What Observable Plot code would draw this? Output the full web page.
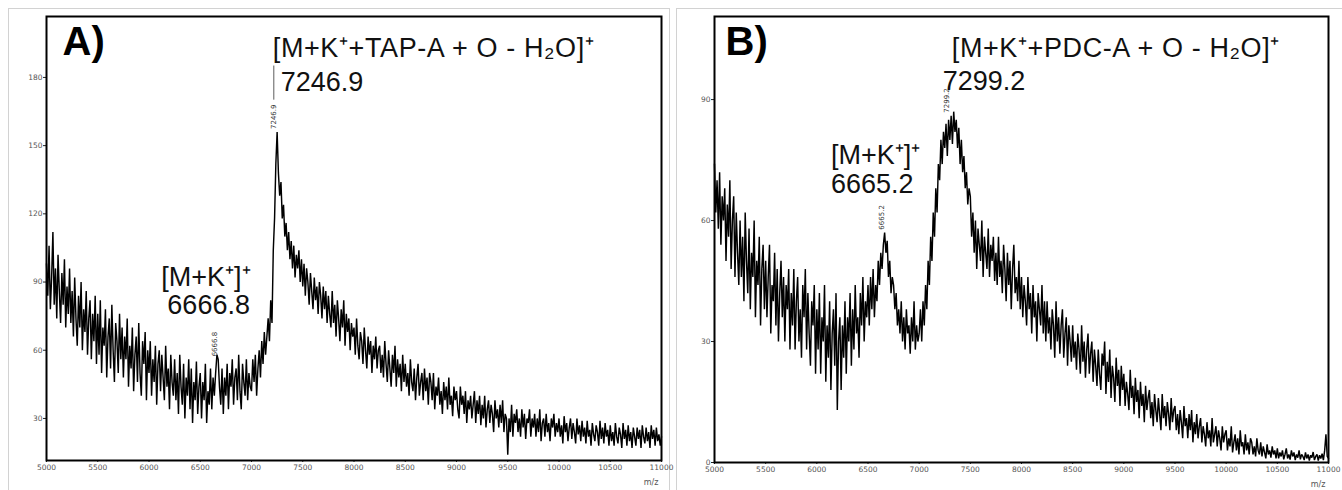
<!DOCTYPE html>
<html>
<head>
<meta charset="utf-8">
<script src="https://cdn.jsdelivr.net/npm/d3@7"></script>
<script src="https://cdn.jsdelivr.net/npm/@observablehq/plot@0.6"></script>
<style>
  html, body { margin: 0; padding: 0; background: #fff; }
  #wrap { position: relative; width: 1342px; height: 490px; overflow: hidden; }
  .panel { position: absolute; top: 0; width: 671px; height: 490px; }
  #pa { left: 0; }
  #pb { left: 671px; }
  .panel svg { display: block; position: absolute; left: 0; top: 0; }
  .box { position: absolute; border-top: 1px solid #d2d2d2; border-left: 1px solid #d2d2d2; height: 500px; }
  #boxa { left: 8px; top: 8px; width: 660px; border-right: 1px solid #d2d2d2; }
  #boxb { left: 676px; top: 8px; width: 680px; }
</style>
</head>
<body>
<div id="wrap">
  <div class="box" id="boxa"></div>
  <div class="box" id="boxb"></div>
  <div class="panel" id="pa"></div>
  <div class="panel" id="pb"></div>
</div>
<script>
// ---- data (m/z sampled every 12.5 from 5000 to 11000) ----
const mzStart = 5000;
const mzStep = 12.5;

// Panel A spectrum (a.u.), one row = 250 m/z
const intensityA = [
  98, 84, 106, 78, 92, 112, 80, 96, 74, 102, 86, 72, 94, 80, 100, 70, 88, 76, 96, 72,
  86, 66, 92, 74, 62, 84, 70, 90, 60, 78, 68, 86, 58, 74, 82, 56, 76, 64, 84, 54,
  76, 58, 82, 50, 70, 62, 78, 48, 66, 74, 52, 80, 60, 46, 72, 64, 50, 76, 56, 70,
  48, 66, 56, 74, 44, 62, 52, 70, 42, 58, 66, 46, 72, 50, 40, 64, 54, 68, 38, 60,
  50, 64, 40, 56, 46, 62, 36, 54, 60, 42, 58, 48, 38, 62, 44, 52, 34, 58, 46, 40,
  56, 38, 50, 32, 58, 44, 36, 54, 30, 48, 40, 56, 34, 52, 28, 46, 38, 55, 32, 44,
  50, 30, 46, 38, 54, 28, 42, 36, 52, 34, 48, 40, 50, 58, 56, 44, 36, 52, 32, 48,
  40, 54, 34, 50, 44, 56, 36, 48, 52, 38, 58, 42, 34, 54, 46, 40, 56, 38, 50, 44,
  42, 56, 46, 58, 40, 52, 60, 48, 64, 54, 68, 58, 66, 74, 64, 82, 72, 104, 118, 142,
  156, 138, 128, 134, 118, 124, 110, 116, 104, 112, 100, 108, 96, 106, 92, 102, 96, 104, 90, 100,
  88, 98, 84, 96, 90, 80, 94, 86, 78, 92, 82, 88, 76, 90, 84, 74, 88, 78, 86, 72,
  84, 76, 70, 86, 72, 80, 66, 82, 74, 64, 78, 70, 82, 62, 76, 68, 74, 60, 72, 66,
  70, 58, 74, 62, 56, 68, 64, 54, 70, 60, 52, 66, 58, 64, 50, 62, 56, 66, 52, 60,
  62, 50, 58, 48, 64, 54, 46, 60, 52, 44, 58, 50, 62, 44, 56, 48, 54, 42, 58, 46,
  54, 44, 50, 40, 56, 46, 42, 52, 38, 48, 54, 40, 46, 50, 38, 52, 42, 48, 36, 50,
  46, 38, 50, 34, 44, 40, 48, 36, 42, 32, 46, 38, 44, 34, 48, 36, 40, 31, 44, 38,
  42, 34, 30, 44, 36, 40, 32, 42, 28, 38, 34, 40, 30, 36, 42, 28, 38, 32, 40, 27,
  36, 30, 40, 26, 34, 38, 28, 36, 32, 24, 38, 30, 34, 26, 36, 28, 38, 24, 32, 30,
  14, 30, 24, 36, 22, 32, 28, 34, 24, 30, 22, 34, 26, 32, 21, 30, 28, 34, 22, 30,
  26, 32, 22, 30, 24, 34, 20, 28, 30, 22, 32, 24, 28, 20, 30, 26, 32, 22, 28, 24,
  30, 22, 27, 19, 31, 24, 28, 20, 26, 30, 21, 28, 24, 19, 30, 23, 27, 20, 29, 22,
  26, 19, 29, 22, 25, 18, 28, 23, 20, 27, 24, 18, 29, 21, 26, 19, 28, 22, 25, 18,
  27, 20, 24, 18, 28, 22, 19, 26, 23, 17, 28, 21, 25, 18, 27, 20, 24, 17, 26, 22,
  18, 26, 21, 25, 17, 27, 22, 19, 26, 20, 24, 17, 27, 21, 25, 18, 26, 20, 23, 18,
  22
];

// Panel B spectrum (a.u.), one row = 250 m/z
const intensityB = [
  74, 62, 70, 58, 72, 54, 66, 60, 68, 50, 64, 56, 70, 48, 60, 66, 46, 62, 52, 44,
  60, 46, 56, 40, 62, 50, 42, 58, 38, 52, 46, 60, 36, 50, 44, 56, 34, 48, 54, 38,
  50, 36, 46, 54, 32, 44, 40, 52, 34, 48, 30, 42, 50, 36, 46, 30, 44, 38, 48, 28,
  42, 34, 48, 28, 40, 46, 30, 38, 26, 44, 36, 48, 28, 42, 32, 24, 40, 34, 44, 22,
  38, 28, 42, 22, 36, 30, 44, 20, 34, 26, 40, 18, 32, 38, 24, 42, 13, 30, 36, 18,
  34, 26, 40, 22, 36, 30, 42, 24, 38, 28, 44, 32, 36, 26, 42, 34, 46, 30, 40, 36,
  44, 34, 46, 38, 48, 36, 44, 40, 50, 44, 52, 48, 54, 57, 52, 55, 46, 50, 42, 46,
  44, 38, 42, 34, 38, 32, 40, 30, 36, 28, 38, 32, 34, 27, 36, 30, 40, 28, 34, 30,
  32, 38, 30, 40, 34, 44, 38, 50, 44, 56, 50, 62, 56, 68, 62, 74, 70, 80, 74, 82,
  78, 84, 76, 85, 80, 86, 79, 87, 82, 85, 78, 83, 74, 80, 72, 76, 68, 72, 64, 68,
  66, 56, 62, 52, 60, 48, 58, 54, 50, 60, 46, 56, 52, 48, 58, 46, 54, 50, 56, 45,
  52, 44, 56, 46, 50, 42, 54, 48, 40, 52, 44, 50, 38, 48, 54, 42, 46, 40, 50, 38,
  46, 36, 44, 40, 34, 46, 38, 42, 32, 44, 36, 40, 30, 42, 38, 34, 44, 32, 40, 30,
  40, 32, 36, 28, 38, 34, 26, 40, 30, 36, 27, 34, 38, 26, 32, 36, 24, 34, 30, 25,
  34, 26, 30, 23, 32, 28, 22, 34, 25, 30, 21, 28, 32, 22, 27, 30, 20, 28, 24, 19,
  28, 22, 18, 27, 24, 30, 17, 25, 20, 28, 16, 24, 21, 15, 26, 19, 23, 14, 24, 18,
  22, 14, 20, 17, 13, 23, 16, 19, 12, 21, 15, 18, 11, 20, 14, 17, 10, 19, 13, 16,
  18, 11, 15, 9, 17, 13, 10, 16, 12, 8, 17, 11, 14, 9, 15, 12, 8, 16, 10, 13,
  14, 8, 12, 7, 13, 10, 6, 14, 9, 11, 6, 12, 8, 13, 5, 10, 7, 12, 6, 9,
  11, 5, 9, 7, 4, 10, 6, 8, 4, 11, 5, 7, 9, 4, 8, 6, 3, 9, 5, 7,
  8, 3, 6, 4, 9, 2.5, 5, 7, 3, 6, 2, 8, 4, 5, 2, 7, 3, 5, 2, 6,
  5, 2, 4, 1.5, 6, 3, 2, 5, 1.5, 4, 2.5, 1, 4.5, 2, 3, 1.2, 4, 2, 3, 1,
  3.5, 1, 2.5, 1.5, 3, 0.8, 2, 3.5, 1, 2, 0.7, 3, 1.5, 2.5, 0.6, 2, 1.2, 3, 0.8, 2,
  1.5, 0.6, 2.5, 1, 2, 0.5, 1.8, 1.2, 2.6, 0.6, 1.5, 2, 0.5, 1.8, 1, 2.2, 0.6, 3, 7, 1.5,
  1
];

// Axis ticks
const xTicks = [5000, 5500, 6000, 6500, 7000, 7500, 8000, 8500, 9000, 9500, 10000, 10500, 11000];
const yTicksA = [30, 60, 90, 120, 150, 180];
const yTicksB = [0, 30, 60, 90];
const xDomain = [5000, 11000];
const yDomainA = [11.5, 206.8];
const yDomainB = [0, 110.6];

// Peak annotations
const panelLabels = ["A)", "B)"];
const peakMzA = [7246.9, 6666.8];
const peakIntA = [156, 56];
const peakNameA = ["[M+K\u207A+TAP-A + O - H\u2082O]\u207A", "[M+K\u207A]\u207A"];
const peakMzB = [7299.2, 6665.2];
const peakIntB = [86, 57];
const peakNameB = ["[M+K\u207A+PDC-A + O - H\u2082O]\u207A", "[M+K\u207A]\u207A"];
const axisUnit = "m/z";

// ---- build tables ----
const specA = intensityA.map((v, i) => ({mz: mzStart + i * mzStep, v}));
const specB = intensityB.map((v, i) => ({mz: mzStart + i * mzStep, v}));
const peaksA = peakMzA.map((mz, i) => ({mz, inten: peakIntA[i], name: peakNameA[i], num: mz.toFixed(1)}));
const peaksB = peakMzB.map((mz, i) => ({mz, inten: peakIntB[i], name: peakNameB[i], num: mz.toFixed(1)}));

const bigFont = "Liberation Sans, Arial, Helvetica, sans-serif";
const smallFont = "DejaVu Sans, Liberation Sans, sans-serif";
const bigSize = 27;

function commonMarks(spec, yTicks, label, ldx) {
  return [
    Plot.line(spec, {x: "mz", y: "v", stroke: "#000", strokeWidth: 1.45, strokeLinejoin: "miter"}),
    Plot.axisY(yTicks, {tickSize: 3, tickPadding: 1, fontSize: 7.5, fontFamily: smallFont, color: "#555", stroke: "#222", label: null}),
    Plot.axisX(xTicks, {tickSize: 2, tickPadding: 2, fontSize: 7.5, fontFamily: smallFont, color: "#555", stroke: "#222", label: null, tickFormat: d => String(d)}),
    Plot.text([axisUnit], {frameAnchor: "bottom-right", text: d => d, dy: 24, dx: -3, textAnchor: "end", fontSize: 8, fontFamily: smallFont, fill: "#555"}),
    Plot.text([label], {frameAnchor: "top-left", text: d => d, lineAnchor: "top", textAnchor: "start", dx: ldx, dy: 10, fontSize: 40, fontWeight: "bold", fontFamily: bigFont, fill: "#000"}),
    Plot.frame({stroke: "#000", strokeWidth: 2})
  ];
}

function bigLabel(row, field, dx, dy) {
  return Plot.text([row], {x: "mz", y: "inten", text: field, textAnchor: "start", lineAnchor: "bottom", dx, dy, fontSize: bigSize, fontFamily: bigFont, fill: "#111"});
}

// ---- Panel A ----
const plotA = Plot.plot({
  width: 671, height: 490,
  marginLeft: 46, marginRight: 10, marginTop: 16, marginBottom: 30,
  x: {domain: xDomain},
  y: {domain: yDomainA},
  style: {background: "transparent", overflow: "visible"},
  marks: [
    ...commonMarks(specA, yTicksA, panelLabels[0], 16),
    Plot.ruleX([peaksA[0]], {x: "mz", y1: d => d.inten + 14, y2: d => d.inten + 29, stroke: "#333", strokeWidth: 0.8, dx: -3}),
    Plot.text(peaksA, {x: "mz", y: "inten", text: "num", rotate: -90, textAnchor: "start", fontSize: 7, fontFamily: smallFont, fill: "#333", dy: -3, dx: -3}),
    bigLabel(peaksA[0], "name", -4, -75),
    bigLabel(peaksA[0], "num", 4, -41),
    bigLabel(peaksA[1], "name", -56, -73),
    bigLabel(peaksA[1], "num", -50, -45)
  ]
});
document.getElementById("pa").appendChild(plotA);

// ---- Panel B ----
const plotB = Plot.plot({
  width: 671, height: 490,
  marginLeft: 43, marginRight: 14, marginTop: 16, marginBottom: 28,
  x: {domain: xDomain},
  y: {domain: yDomainB},
  style: {background: "transparent", overflow: "visible"},
  marks: [
    ...commonMarks(specB, yTicksB, panelLabels[1], 11),
    Plot.text(peaksB, {x: "mz", y: "inten", text: "num", rotate: -90, textAnchor: "start", fontSize: 7, fontFamily: smallFont, fill: "#333", dy: -3, dx: -3}),
    bigLabel(peaksB[0], "name", 2, -59),
    bigLabel(peaksB[0], "num", -7, -26),
    bigLabel(peaksB[1], "name", -54, -69),
    bigLabel(peaksB[1], "num", -54, -40)
  ]
});
document.getElementById("pb").appendChild(plotB);

// slight letter spacing on the long formula labels
d3.selectAll("svg text").filter(function() { return this.textContent.startsWith("[M+K") && this.textContent.length > 12; })
  .attr("letter-spacing", "0.6px");
</script>
</body>
</html>
